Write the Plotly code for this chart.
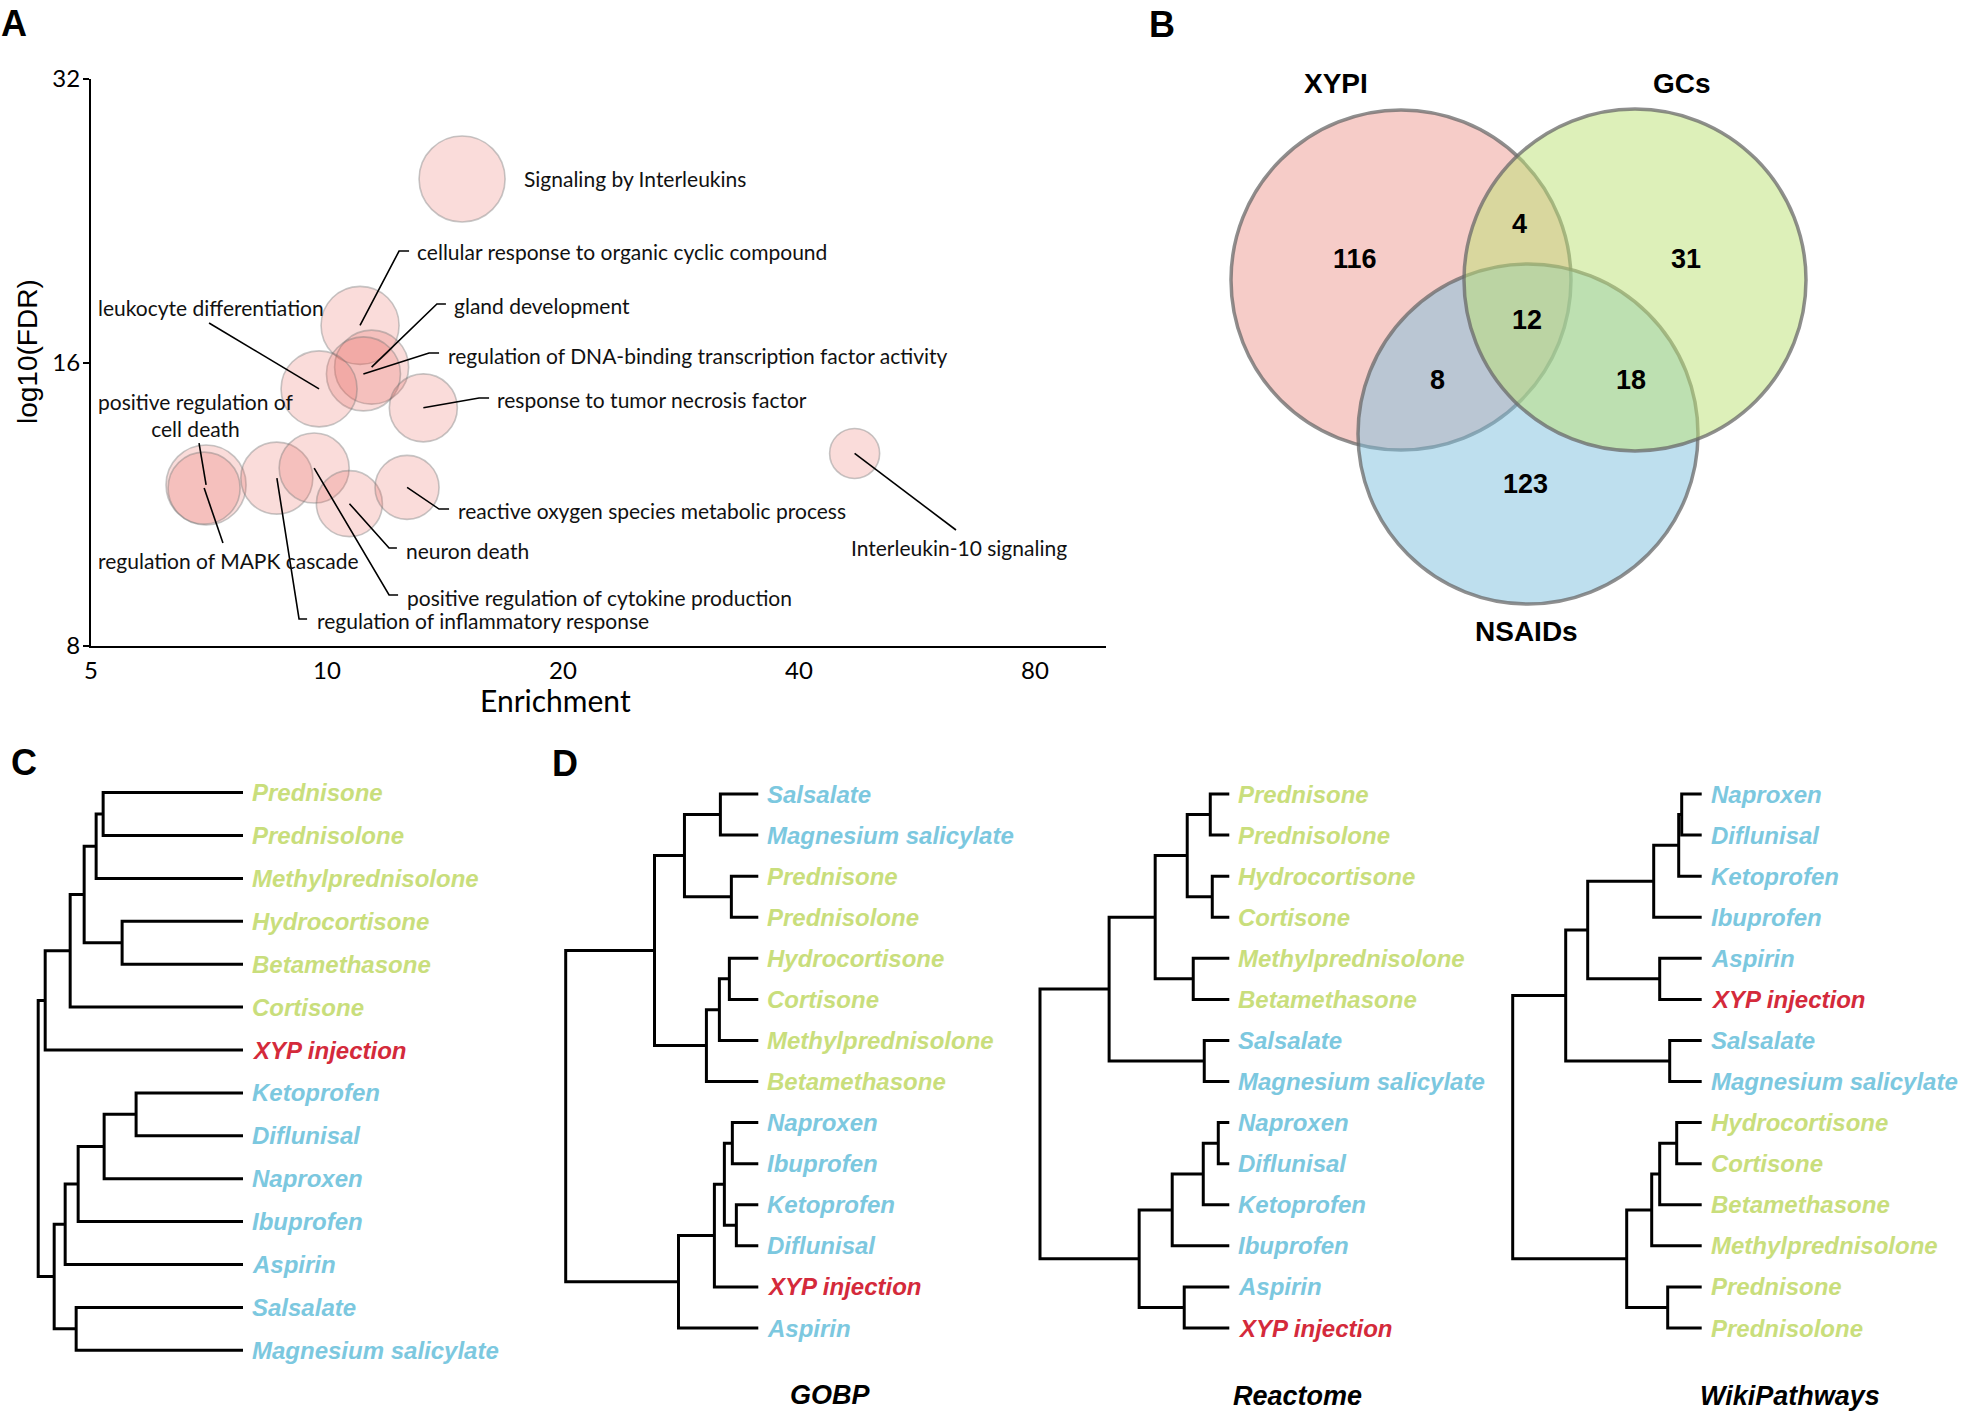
import math
import plotly.graph_objects as go

W, H = 1961, 1416

# ---------------- Panel A data ----------------
terms = ["Signaling by Interleukins",
         "cellular response to organic cyclic compound",
         "gland development",
         "regulation of DNA-binding transcription factor activity",
         "leukocyte differentiation",
         "response to tumor necrosis factor",
         "positive regulation of cell death",
         "regulation of MAPK cascade",
         "regulation of inflammatory response",
         "positive regulation of cytokine production",
         "neuron death",
         "reactive oxygen species metabolic process",
         "Interleukin-10 signaling"]
enrichment = [14.87, 11.02, 11.40, 11.13, 9.77, 13.27, 7.01, 6.97, 8.63, 9.63, 10.68, 12.65, 47.1]
log10_fdr = [25.06, 17.52, 15.82, 15.56, 15.0, 14.32, 11.86, 11.77, 12.06, 12.36, 11.33, 11.79, 12.81]
gene_count = [43, 39, 37, 37, 38, 34, 40, 36, 36, 35, 33, 32, 25]
x_ticks = [5, 10, 20, 40, 80]
y_ticks = [8, 16, 32]

# ---------------- Panel B data ----------------
venn_sets = ["XYPI", "GCs", "NSAIDs"]
venn_regions = ["XYPI only", "XYPI&GCs", "GCs only", "XYPI&GCs&NSAIDs", "XYPI&NSAIDs", "GCs&NSAIDs", "NSAIDs only"]
venn_counts = [116, 4, 31, 12, 8, 18, 123]

# ---------------- Panel C / D data ----------------
GC = ["Prednisone", "Prednisolone", "Methylprednisolone", "Hydrocortisone", "Betamethasone", "Cortisone"]
NSAID = ["Ketoprofen", "Diflunisal", "Naproxen", "Ibuprofen", "Aspirin", "Salsalate", "Magnesium salicylate"]
XYP = ["XYP injection"]

leaves_C = ["Prednisone", "Prednisolone", "Methylprednisolone", "Hydrocortisone", "Betamethasone",
            "Cortisone", "XYP injection", "Ketoprofen", "Diflunisal", "Naproxen", "Ibuprofen",
            "Aspirin", "Salsalate", "Magnesium salicylate"]
merges_C = [("Prednisone", "Prednisolone", 1.40), (0, "Methylprednisolone", 1.47),
            ("Hydrocortisone", "Betamethasone", 1.21), (1, 2, 1.59), (3, "Cortisone", 1.73),
            (4, "XYP injection", 1.98), ("Ketoprofen", "Diflunisal", 1.07), (6, "Naproxen", 1.39),
            (7, "Ibuprofen", 1.65), (8, "Aspirin", 1.78), ("Salsalate", "Magnesium salicylate", 1.67),
            (9, 10, 1.89), (5, 11, 2.05)]

leaves_GOBP = ["Salsalate", "Magnesium salicylate", "Prednisone", "Prednisolone", "Hydrocortisone",
               "Cortisone", "Methylprednisolone", "Betamethasone", "Naproxen", "Ibuprofen",
               "Ketoprofen", "Diflunisal", "XYP injection", "Aspirin"]
merges_GOBP = [("Salsalate", "Magnesium salicylate", 0.38), ("Prednisone", "Prednisolone", 0.27),
               (0, 1, 0.74), ("Hydrocortisone", "Cortisone", 0.29), (3, "Methylprednisolone", 0.39),
               (4, "Betamethasone", 0.52), (2, 5, 1.04), ("Naproxen", "Ibuprofen", 0.26),
               ("Ketoprofen", "Diflunisal", 0.22), (7, 8, 0.34), (9, "XYP injection", 0.44),
               (10, "Aspirin", 0.80), (6, 11, 1.93)]

leaves_React = ["Prednisone", "Prednisolone", "Hydrocortisone", "Cortisone", "Methylprednisolone",
                "Betamethasone", "Salsalate", "Magnesium salicylate", "Naproxen", "Diflunisal",
                "Ketoprofen", "Ibuprofen", "Aspirin", "XYP injection"]
merges_React = [("Prednisone", "Prednisolone", 0.19), ("Hydrocortisone", "Cortisone", 0.17),
                (0, 1, 0.42), ("Methylprednisolone", "Betamethasone", 0.36), (2, 3, 0.74),
                ("Salsalate", "Magnesium salicylate", 0.25), (4, 5, 1.20),
                ("Naproxen", "Diflunisal", 0.11), (7, "Ketoprofen", 0.26), (8, "Ibuprofen", 0.57),
                ("Aspirin", "XYP injection", 0.45), (9, 10, 0.90), (6, 11, 1.89)]

leaves_Wiki = ["Naproxen", "Diflunisal", "Ketoprofen", "Ibuprofen", "Aspirin", "XYP injection",
               "Salsalate", "Magnesium salicylate", "Hydrocortisone", "Cortisone", "Betamethasone",
               "Methylprednisolone", "Prednisone", "Prednisolone"]
merges_Wiki = [("Naproxen", "Diflunisal", 0.20), (0, "Ketoprofen", 0.23), (1, "Ibuprofen", 0.48),
               ("Aspirin", "XYP injection", 0.42), (2, 3, 1.14), ("Salsalate", "Magnesium salicylate", 0.32),
               (4, 5, 1.36), ("Hydrocortisone", "Cortisone", 0.25), (7, "Betamethasone", 0.42),
               (8, "Methylprednisolone", 0.50), ("Prednisone", "Prednisolone", 0.34), (9, 10, 0.75),
               (6, 11, 1.89)]

tree_titles = ["GOBP", "Reactome", "WikiPathways"]

# ---------------- styling / layout helpers ----------------
GREEN = "#C9DE7C"
BLUE = "#7CC8DF"
RED = "#D42A3B"
ARIAL = "Liberation Sans, Arial, sans-serif"
SANS = "Lato, sans-serif"


def fx(px):
    return px / W


def fy(py):
    return 1 - py / H


def leaf_color(name):
    if name in GC:
        return GREEN
    if name in XYP:
        return RED
    return BLUE


def note(text, px, py, size, family=ARIAL, color="black", xanchor="center", yanchor="middle", **kw):
    d = dict(text=text, x=fx(px), y=fy(py), xref="paper", yref="paper", showarrow=False,
             xanchor=xanchor, yanchor=yanchor, font=dict(family=family, size=size, color=color))
    d.update(kw)
    return d


fig = go.Figure()
shapes = []
annotations = []

# ---------------- Panel A ----------------
A_left, A_right, A_bottom, A_top = 91, 1106, 646, 79
px_per_doubling = 236.0
x_lo = math.log10(5)
x_hi = x_lo + (A_right - A_left) / px_per_doubling * math.log10(2)
y_lo, y_hi = math.log10(8), math.log10(32)


def ax_px(v):
    return A_left + (math.log10(v) - x_lo) / (x_hi - x_lo) * (A_right - A_left)


def ay_px(v):
    return A_bottom - (math.log10(v) - y_lo) / (y_hi - y_lo) * (A_bottom - A_top)


fig.add_trace(go.Scatter(
    x=enrichment, y=log10_fdr, mode="markers", text=terms, hoverinfo="text",
    marker=dict(size=gene_count, sizemode="diameter", sizeref=0.5,
                color="rgba(232,92,84,0.30)",
                line=dict(color="rgba(110,110,110,0.55)", width=1.6)),
    xaxis="x", yaxis="y", showlegend=False))

# label placement: (term index, text x px, text y px, anchor, leader waypoints)
label_layout = [
    (0, 522, 179, "left", []),
    (1, 415, 252, "left", [(399, 251), (409, 251)]),
    (2, 452, 305, "left", [(437, 304), (446, 304)]),
    (3, 446, 355, "left", [(429, 353), (439, 353)]),
    (4, 96, 308, "left", [(209, 323)]),
    (5, 495, 399, "left", [(479, 398), (489, 398)]),
    (6, 196, 415, "center", [(199, 443)]),
    (7, 96, 561, "left", [(223, 543)]),
    (8, 315, 620, "left", [(299, 619), (307, 619)]),
    (9, 405, 597, "left", [(389, 595), (398, 595)]),
    (10, 404, 550, "left", [(389, 548), (397, 548)]),
    (11, 456, 511, "left", [(439, 509), (449, 509)]),
    (12, 849, 547, "left", [(956, 530)]),
]
for idx, tx, ty, anc, pts in label_layout:
    txt = terms[idx]
    if idx == 6:
        txt = "positive regulation of<br>cell death"
    annotations.append(note(txt, tx, ty, 21, family=SANS, color="#111", xanchor=anc, align="center"))
    if pts:
        cx, cy = ax_px(enrichment[idx]), ay_px(log10_fdr[idx])
        path = "M %.4f %.4f" % (fx(cx), fy(cy))
        for px, py in pts:
            path += " L %.4f %.4f" % (fx(px), fy(py))
        shapes.append(dict(type="path", path=path, xref="paper", yref="paper",
                           line=dict(color="black", width=1.6)))

annotations.append(note("log10(FDR)", 27, 352, 28, textangle=-90))
annotations.append(note("Enrichment", 555, 700, 30, family=SANS))

# ---------------- Panel B (Venn) ----------------
venn_geom = {"XYPI": (1401, 280, 170), "GCs": (1635, 280, 171), "NSAIDs": (1528, 434, 170)}
venn_fill = {"XYPI": "rgba(237,153,145,0.5)", "GCs": "rgba(187,225,115,0.5)",
             "NSAIDs": "rgba(125,191,221,0.5)"}
for s in ["XYPI", "NSAIDs", "GCs"]:
    cx, cy, r = venn_geom[s]
    shapes.append(dict(type="circle", xref="paper", yref="paper",
                       x0=fx(cx - r), x1=fx(cx + r), y0=fy(cy + r), y1=fy(cy - r),
                       fillcolor=venn_fill[s], line=dict(color="rgba(105,105,105,0.75)", width=3.5),
                       layer="above"))
region_pos = [(1355, 259), (1519, 224), (1686, 259), (1527, 320), (1437, 380), (1631, 380), (1525, 484)]
for (px, py), n in zip(region_pos, venn_counts):
    annotations.append(note("<b>%d</b>" % n, px, py, 27))
set_label_pos = [(1336, 84), (1682, 84), (1526, 631)]
for (px, py), s in zip(set_label_pos, venn_sets):
    annotations.append(note("<b>%s</b>" % s, px, py, 28))

# ---------------- Panels C and D (dendrograms) ----------------


def dendro_xy(leaves, merges):
    pos = {name: (0.0, float(i)) for i, name in enumerate(leaves)}
    nodes = []
    xs, ys = [], []
    for a, b, h in merges:
        pa = pos[a] if isinstance(a, str) else nodes[a]
        pb = pos[b] if isinstance(b, str) else nodes[b]
        xs += [pa[0], h, h, pb[0], None]
        ys += [pa[1], pa[1], pb[1], pb[1], None]
        nodes.append((h, (pa[1] + pb[1]) / 2))
    return xs, ys


trees = [
    dict(leaves=leaves_C, merges=merges_C, root_px=38.2, leaf_px=243, top=792.6, bottom=1350.3),
    dict(leaves=leaves_GOBP, merges=merges_GOBP, root_px=565.7, leaf_px=758.3, top=794, bottom=1328),
    dict(leaves=leaves_React, merges=merges_React, root_px=1040, leaf_px=1229.3, top=794, bottom=1328),
    dict(leaves=leaves_Wiki, merges=merges_Wiki, root_px=1512.7, leaf_px=1701.7, top=794, bottom=1328),
]
layout_axes = {}
pad = 6
for k, t in enumerate(trees, start=2):
    xs, ys = dendro_xy(t["leaves"], t["merges"])
    root_h = t["merges"][-1][2]
    s = root_h / (t["leaf_px"] - t["root_px"])
    n = len(t["leaves"])
    tt = (n - 1) / (t["bottom"] - t["top"])
    layout_axes["xaxis%d" % k] = dict(domain=[fx(t["root_px"] - pad), fx(t["leaf_px"] + pad)],
                                      range=[root_h + pad * s, -pad * s], visible=False,
                                      anchor="y%d" % k, fixedrange=True, automargin=False)
    layout_axes["yaxis%d" % k] = dict(domain=[fy(t["bottom"] + pad), fy(t["top"] - pad)],
                                      range=[n - 1 + pad * tt, -pad * tt], visible=False,
                                      anchor="x%d" % k, fixedrange=True, automargin=False)
    fig.add_trace(go.Scatter(x=xs, y=ys, mode="lines", line=dict(color="black", width=3),
                             xaxis="x%d" % k, yaxis="y%d" % k, showlegend=False, hoverinfo="skip"))
    for i, name in enumerate(t["leaves"]):
        annotations.append(dict(text="<b><i>%s</i></b>" % name, x=0, y=i, xref="x%d" % k, yref="y%d" % k,
                                xanchor="left", yanchor="middle", xshift=7, showarrow=False,
                                font=dict(family=ARIAL, size=24, color=leaf_color(name))))

for (px, py), title in zip([(830, 1395), (1297, 1396), (1790, 1396)], tree_titles):
    annotations.append(note("<b><i>%s</i></b>" % title, px, py, 27))

# panel letters
for letter, (px, py) in zip("ABCD", [(14, 24), (1162, 25), (24, 762), (565, 763)]):
    annotations.append(note("<b>%s</b>" % letter, px, py, 36))

fig.update_layout(
    width=W, height=H, autosize=False,
    margin=dict(l=0, r=0, t=0, b=0, pad=0, autoexpand=False),
    paper_bgcolor="white", plot_bgcolor="rgba(0,0,0,0)",
    showlegend=False,
    xaxis=dict(type="log", domain=[fx(A_left), fx(A_right)], range=[x_lo, x_hi],
               tickvals=x_ticks, ticktext=[str(v) for v in x_ticks], ticks="",
               ticklabelstandoff=2,
               showline=True, linecolor="black", linewidth=2, showgrid=False, zeroline=False,
               tickfont=dict(family=SANS, size=24, color="black"), anchor="y", fixedrange=True,
               automargin=False),
    yaxis=dict(type="log", domain=[fy(A_bottom), fy(A_top)], range=[y_lo, y_hi],
               tickvals=y_ticks, ticktext=[str(v) for v in y_ticks], ticks="outside", ticklen=6,
               tickwidth=2, tickcolor="black", ticklabelstandoff=-2,
               showline=True, linecolor="black", linewidth=2, showgrid=False, zeroline=False,
               tickfont=dict(family=SANS, size=24, color="black"), anchor="x", fixedrange=True,
               automargin=False),
    shapes=shapes,
    annotations=annotations,
    **layout_axes,
)

fig.write_html("out.html", config={"displayModeBar": False},
               post_script="document.body.style.margin='0px';")
